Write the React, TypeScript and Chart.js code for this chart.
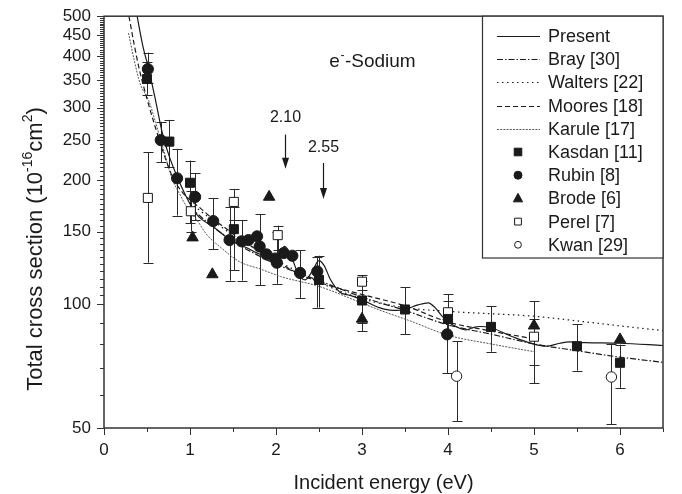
import React, { useEffect, useRef } from 'react';
import { Chart, registerables } from 'chart.js';

Chart.register(...registerables);

const FONT = '"Liberation Sans", Arial, Helvetica, sans-serif';
const INK = '#1a1a1a';
const AXIS = '#333333';

// ---------- tick labels ----------
const X_TICKS = [0, 0.5, 1, 1.5, 2, 2.5, 3, 3.5, 4, 4.5, 5, 5.5, 6, 6.5];
const Y_TICKS = [
  50, 60, 70, 80, 90, 100, 105, 110, 115, 120, 125, 130, 135, 140, 145, 150, 155, 160, 165, 170, 175, 180, 185, 190, 195,
  200, 205, 210, 215, 220, 225, 230, 235, 240, 245, 250, 255, 260, 265, 270, 275, 280, 285, 290, 295, 300, 305, 310, 315,
  320, 325, 330, 335, 340, 345, 350, 355, 360, 365, 370, 375, 380, 385, 390, 395, 400, 405, 410, 415, 420, 425, 430, 435,
  440, 445, 450, 455, 460, 465, 470, 475, 480, 485, 490, 495, 500,
];

// ---------- theory curves ----------
const presentE = [0.385, 0.45, 0.52, 0.6, 0.675, 0.76, 0.85, 0.93, 1.0, 1.1, 1.27, 1.47, 1.66, 1.82, 1.97, 2.05, 2.1, 2.15, 2.2, 2.26, 2.34, 2.42, 2.5, 2.56, 2.63, 2.74, 2.86, 3.0, 3.2, 3.36, 3.5, 3.65, 3.77, 3.85, 3.92, 4.0, 4.1, 4.21, 4.3, 4.37, 4.5, 4.75, 5.0, 5.14, 5.3, 5.41, 5.6, 6.0, 6.5];
const presentS = [500, 425, 372, 312, 262, 228, 204, 187, 175, 163, 154, 143, 137, 132, 130, 134, 138, 134, 127, 118, 114.5, 120, 127.5, 124, 115, 107, 105, 102.5, 98, 96.5, 97, 99.5, 100.7, 98, 94, 90.6, 88, 86.5, 87.8, 88.2, 87.6, 83.3, 79.9, 79, 80.3, 80.9, 80.6, 80.3, 79.3];

const brayE = [1.0, 1.2, 1.4, 1.6, 1.8, 2.0, 2.5, 3.0, 3.5, 4.0, 4.5, 5.0, 5.5, 6.0, 6.5];
const brayS = [172, 158, 147, 138, 131, 125, 114, 104, 96.5, 89, 84.5, 80, 77, 74.3, 72.2];

const waltersE = [1.0, 1.5, 2.0, 2.5, 3.0, 3.5, 4.0, 4.5, 5.0, 5.5, 6.0, 6.5];
const waltersS = [176, 147, 128, 113, 103, 98, 96, 94.7, 93.4, 91, 88.5, 86.2];

const mooresE = [0.29, 0.35, 0.41, 0.5, 0.58, 0.7, 0.8, 0.9, 1.0, 1.12, 1.25, 1.43, 1.6, 1.74, 2.0, 2.25, 2.5, 3.0, 3.5, 4.0, 4.5, 5.0];
const mooresS = [500, 428, 372, 315, 276, 230, 203, 188, 179, 171, 162, 152, 143, 137, 127, 119, 113, 105.5, 99, 90.5, 86, 82.3];

const karuleE = [0.285, 0.35, 0.42, 0.52, 0.6, 0.7, 0.79, 0.88, 0.97, 1.08, 1.2, 1.35, 1.58, 1.82, 2.05, 2.51, 3.0, 3.21, 3.56, 4.0, 4.5, 5.0];
const karuleS = [455, 392, 343, 312, 276, 234, 202, 185, 171, 160, 147, 137.6, 126.6, 121.6, 116.7, 110.2, 100.5, 96.6, 91, 84, 80, 76.6];

// ---------- experiments (value, error low, error high) ----------
const kasdanE = [0.5, 0.76, 1.0, 1.51, 2.5, 3.0, 3.5, 4.0, 4.5, 5.5, 6.0];
const kasdanS = [352, 248, 197, 152, 114.4, 102, 97, 92, 88, 79, 72];
const kasdanLo = [322, 215, 157, 121, 98, 90, 84.4, 84, 76.6, 68.9, 62.6];
const kasdanHi = [388, 280, 223, 172, 131, 114, 110, 101.5, 99, 89.3, 79.7];

const rubinE = [0.51, 0.66, 0.85, 1.06, 1.27, 1.46, 1.6, 1.68, 1.78, 1.81, 1.89, 1.99, 2.01, 2.09, 2.19, 2.28, 2.48, 3.99];
const rubinS = [372, 250, 202, 182, 159, 143, 142, 143, 146, 138, 132, 129, 126, 133, 131, 119, 120, 84.4];
const rubinLo = [345, 221, 164, 160, 136, 114, 114, null, null, 111, null, null, 112, null, null, 103.5, 98, 67.9];
const rubinHi = [408, 277, 238, 208, 181, 172, 160, null, null, 165, null, null, 150, null, null, 135, 130, 92];

const brodeE = [1.03, 1.26, 1.92, 3.0, 5.0, 6.0];
const brodeS = [145, 118, 182, 92, 88.6, 82];
const brodeLo = [null, null, null, 86, 71, null];
const brodeHi = [null, null, null, 100, 101.5, null];

const perelE = [0.51, 1.01, 1.51, 2.02, 3.0, 4.0, 5.0];
const perelS = [181, 168, 177, 147, 113.3, 95.5, 83.3];
const perelLo = [126, 150, 160, 135, 108, 90, 64.3];
const perelHi = [234, 188, 190, 155, 117.6, 105.8, 92];

const kwanE = [4.1, 5.9];
const kwanS = [66.8, 66.5];
const kwanLo = [52, 51];
const kwanHi = [81.2, 80];

// ---------- annotations (data space) ----------
const ARROWS = [
  { label: '2.10', e: 2.1, textS: 277, fromS: 258, toS: 213 },
  { label: '2.55', e: 2.55, textS: 234, fromS: 220, toS: 180 },
];
const TITLE_POS = { e: 2.62, s: 376 };

const pts = (xs: number[], ys: number[]) => xs.map((x, i) => ({ x, y: ys[i] }));

function curve(label: string, xs: number[], ys: number[], dash: number[], color = INK, width = 1.2) {
  return {
    label,
    data: pts(xs, ys),
    showLine: true,
    borderColor: color,
    borderWidth: width,
    borderDash: dash,
    pointRadius: 0,
    fill: false,
    cubicInterpolationMode: 'monotone',
    kind: 'line',
  };
}

function marks(label: string, xs: number[], ys: number[], lo: (number | null)[], hi: (number | null)[], style: string, radius: number, filled: boolean, legendR: number) {
  return {
    label,
    data: pts(xs, ys),
    showLine: false,
    pointStyle: style,
    pointRadius: radius,
    pointBackgroundColor: filled ? INK : '#ffffff',
    pointBorderColor: INK,
    pointBorderWidth: 1,
    errLo: lo,
    errHi: hi,
    kind: 'mark',
    legendStyle: style,
    legendFilled: filled,
    legendR,
  };
}

function drawMarker(ctx: CanvasRenderingContext2D, style: string, x: number, y: number, r: number, filled: boolean) {
  ctx.beginPath();
  if (style === 'rect') {
    ctx.rect(x - r, y - r, 2 * r, 2 * r);
  } else if (style === 'circle') {
    ctx.arc(x, y, r, 0, Math.PI * 2);
  } else {
    ctx.moveTo(x, y - r * 1.1);
    ctx.lineTo(x + r, y + r * 0.75);
    ctx.lineTo(x - r, y + r * 0.75);
    ctx.closePath();
  }
  ctx.fillStyle = filled ? INK : '#ffffff';
  ctx.fill();
  ctx.lineWidth = 1;
  ctx.strokeStyle = INK;
  ctx.stroke();
}

const errorBarPlugin = {
  id: 'errorBars',
  beforeDatasetsDraw(chart: any) {
    const { ctx, scales } = chart;
    ctx.save();
    ctx.strokeStyle = '#2a2a2a';
    ctx.lineWidth = 1;
    chart.data.datasets.forEach((ds: any) => {
      if (!ds.errLo) return;
      ds.data.forEach((p: any, i: number) => {
        const lo = ds.errLo[i];
        const hi = ds.errHi[i];
        if (lo == null && hi == null) return;
        const px = Math.round(scales.x.getPixelForValue(p.x)) + 0.5;
        const yLo = scales.y.getPixelForValue(lo == null ? p.y : lo);
        const yHi = scales.y.getPixelForValue(hi == null ? p.y : hi);
        ctx.beginPath();
        ctx.moveTo(px, yLo);
        ctx.lineTo(px, yHi);
        if (lo != null) { ctx.moveTo(px - 5, Math.round(yLo) + 0.5); ctx.lineTo(px + 5, Math.round(yLo) + 0.5); }
        if (hi != null) { ctx.moveTo(px - 5, Math.round(yHi) + 0.5); ctx.lineTo(px + 5, Math.round(yHi) + 0.5); }
        ctx.stroke();
      });
    });
    ctx.restore();
  },
};

const LEGEND_ORDER = ['Present', 'Bray [30]', 'Walters [22]', 'Moores [18]', 'Karule [17]', 'Kasdan [11]', 'Rubin [8]', 'Brode [6]', 'Perel [7]', 'Kwan [29]'];

const decorPlugin = {
  id: 'decor',
  afterDraw(chart: any) {
    const { ctx, chartArea: a, scales } = chart;
    const xs = scales.x;
    const ys = scales.y;
    ctx.save();
    // ticks
    ctx.strokeStyle = AXIS;
    ctx.lineWidth = 1;
    ctx.beginPath();
    Y_TICKS.forEach((v) => {
      const py = Math.round(ys.getPixelForValue(v)) + 0.5;
      const len = v % 50 === 0 ? 7 : 4;
      ctx.moveTo(a.left, py);
      ctx.lineTo(a.left - len, py);
    });
    X_TICKS.forEach((v) => {
      const px = Math.round(xs.getPixelForValue(v)) + 0.5;
      const len = Number.isInteger(v) ? 7 : 4;
      ctx.moveTo(px, a.bottom);
      ctx.lineTo(px, a.bottom + len);
    });
    ctx.stroke();
    // frame
    ctx.lineWidth = 1.5;
    ctx.strokeStyle = AXIS;
    ctx.strokeRect(a.left, a.top, a.right - a.left, a.bottom - a.top);

    // axis titles
    ctx.fillStyle = INK;
    ctx.textBaseline = 'alphabetic';
    ctx.font = `20px ${FONT}`;
    ctx.textAlign = 'center';
    ctx.fillText('Incident energy (eV)', (a.left + a.right) / 2, 489);

    // y title with superscripts
    const parts: [string, number, number][] = [
      ['Total cross section (10', 22, 0],
      ['-16', 14, -10],
      ['cm', 22, 0],
      ['2', 14, -10],
      [')', 22, 0],
    ];
    ctx.textAlign = 'left';
    let total = 0;
    parts.forEach(([t, s]) => { ctx.font = `${s}px ${FONT}`; total += ctx.measureText(t).width; });
    ctx.translate(42, 249);
    ctx.rotate(-Math.PI / 2);
    let cx = -total / 2;
    parts.forEach(([t, s, dy]) => {
      ctx.font = `${s}px ${FONT}`;
      ctx.fillText(t, cx, dy);
      cx += ctx.measureText(t).width;
    });
    ctx.setTransform(1, 0, 0, 1, 0, 0);

    // "e- -Sodium"
    const tx = xs.getPixelForValue(TITLE_POS.e);
    const ty = ys.getPixelForValue(TITLE_POS.s);
    ctx.font = `19px ${FONT}`;
    ctx.fillText('e', tx, ty);
    let w = ctx.measureText('e').width;
    ctx.font = `12px ${FONT}`;
    ctx.fillText('-', tx + w + 0.5, ty - 8);
    w += ctx.measureText('-').width + 1;
    ctx.font = `19px ${FONT}`;
    ctx.fillText('-Sodium', tx + w, ty);

    // arrows
    ARROWS.forEach((ar) => {
      const px = Math.round(xs.getPixelForValue(ar.e)) + 0.5;
      ctx.font = `16px ${FONT}`;
      ctx.textAlign = 'center';
      ctx.fillText(ar.label, px, ys.getPixelForValue(ar.textS));
      const y0 = ys.getPixelForValue(ar.fromS);
      const y1 = ys.getPixelForValue(ar.toS);
      ctx.beginPath();
      ctx.moveTo(px, y0);
      ctx.lineTo(px, y1 - 8);
      ctx.lineWidth = 1.2;
      ctx.strokeStyle = INK;
      ctx.stroke();
      ctx.beginPath();
      ctx.moveTo(px, y1);
      ctx.lineTo(px - 3.5, y1 - 11);
      ctx.lineTo(px + 3.5, y1 - 11);
      ctx.closePath();
      ctx.fill();
    });

    // legend
    const lx0 = 482;
    const lx1 = a.right;
    const ly0 = a.top;
    const ly1 = 258;
    ctx.fillStyle = '#ffffff';
    ctx.fillRect(lx0, ly0, lx1 - lx0, ly1 - ly0);
    ctx.lineWidth = 1.2;
    ctx.strokeStyle = AXIS;
    ctx.strokeRect(lx0 + 0.5, ly0, lx1 - lx0 - 0.5, ly1 - ly0);
    const rowY0 = 36;
    const rowStep = 23.2;
    ctx.textAlign = 'left';
    ctx.textBaseline = 'middle';
    chart.data.datasets.forEach((ds: any) => {
      const order = LEGEND_ORDER.indexOf(ds.label);
      const y = rowY0 + order * rowStep;
      if (ds.kind === 'line') {
        ctx.beginPath();
        ctx.setLineDash(ds.borderDash);
        ctx.strokeStyle = ds.borderColor;
        ctx.lineWidth = ds.borderWidth;
        ctx.moveTo(497, Math.round(y) + 0.5);
        ctx.lineTo(540, Math.round(y) + 0.5);
        ctx.stroke();
        ctx.setLineDash([]);
      } else {
        drawMarker(ctx, ds.legendStyle, 518, y, ds.legendR, ds.legendFilled);
      }
      ctx.fillStyle = INK;
      ctx.font = `18px ${FONT}`;
      ctx.fillText(ds.label, 548, y + 1);
    });
    ctx.restore();
  },
};

export default function App() {
  const ref = useRef<HTMLCanvasElement | null>(null);

  useEffect(() => {
    if (!ref.current) return;
    const datasets: any[] = [
      marks('Kasdan [11]', kasdanE, kasdanS, kasdanLo, kasdanHi, 'rect', 6.4, true, 3.8),
      marks('Rubin [8]', rubinE, rubinS, rubinLo, rubinHi, 'circle', 5.6, true, 4),
      marks('Brode [6]', brodeE, brodeS, brodeLo, brodeHi, 'triangle', 6.6, true, 4.6),
      marks('Perel [7]', perelE, perelS, perelLo, perelHi, 'rect', 6.4, false, 3.4),
      marks('Kwan [29]', kwanE, kwanS, kwanLo, kwanHi, 'circle', 5.2, false, 3.4),
      curve('Present', presentE, presentS, []),
      curve('Bray [30]', brayE, brayS, [6, 2, 1.5, 2]),
      curve('Walters [22]', waltersE, waltersS, [1.5, 3.5]),
      curve('Moores [18]', mooresE, mooresS, [5, 3]),
      curve('Karule [17]', karuleE, karuleS, [2, 1.2], '#555555', 1),
    ];

    const chart = new Chart(ref.current, {
      type: 'scatter',
      data: { datasets },
      options: {
        animation: false,
        responsive: false,
        maintainAspectRatio: false,
        events: [],
        layout: { padding: { left: 0, right: 19, top: 15, bottom: 0 } },
        plugins: { legend: { display: false }, tooltip: { enabled: false } },
        scales: {
          x: {
            type: 'linear',
            min: 0,
            max: 6.5,
            afterBuildTicks: (axis: any) => { axis.ticks = X_TICKS.map((v) => ({ value: v })); },
            afterFit: (axis: any) => { axis.height = 66; },
            grid: { display: false, drawTicks: true, tickLength: 7 },
            border: { display: false },
            ticks: {
              autoSkip: false,
              maxRotation: 0,
              minRotation: 0,
              padding: 5,
              color: INK,
              font: { family: FONT, size: 17 },
              callback: (v: any) => (Number.isInteger(Number(v)) ? String(v) : ''),
            },
          },
          y: {
            type: 'logarithmic',
            min: 50,
            max: 500,
            afterBuildTicks: (axis: any) => { axis.ticks = Y_TICKS.map((v) => ({ value: v })); },
            afterFit: (axis: any) => { axis.width = 104; },
            grid: { display: false, drawTicks: true, tickLength: 7 },
            border: { display: false },
            ticks: {
              autoSkip: false,
              padding: 6,
              color: INK,
              font: { family: FONT, size: 17 },
              callback: (v: any) => (Number(v) % 50 === 0 ? String(v) : ''),
            },
          },
        },
      } as any,
      plugins: [errorBarPlugin, decorPlugin],
    });
    return () => chart.destroy();
  }, []);

  return (
    <div style={{ position: 'fixed', left: 0, top: 0, width: 682, height: 494, background: '#ffffff' }}>
      <canvas ref={ref} width={682} height={494} style={{ display: 'block', width: 682, height: 494 }} />
    </div>
  );
}
